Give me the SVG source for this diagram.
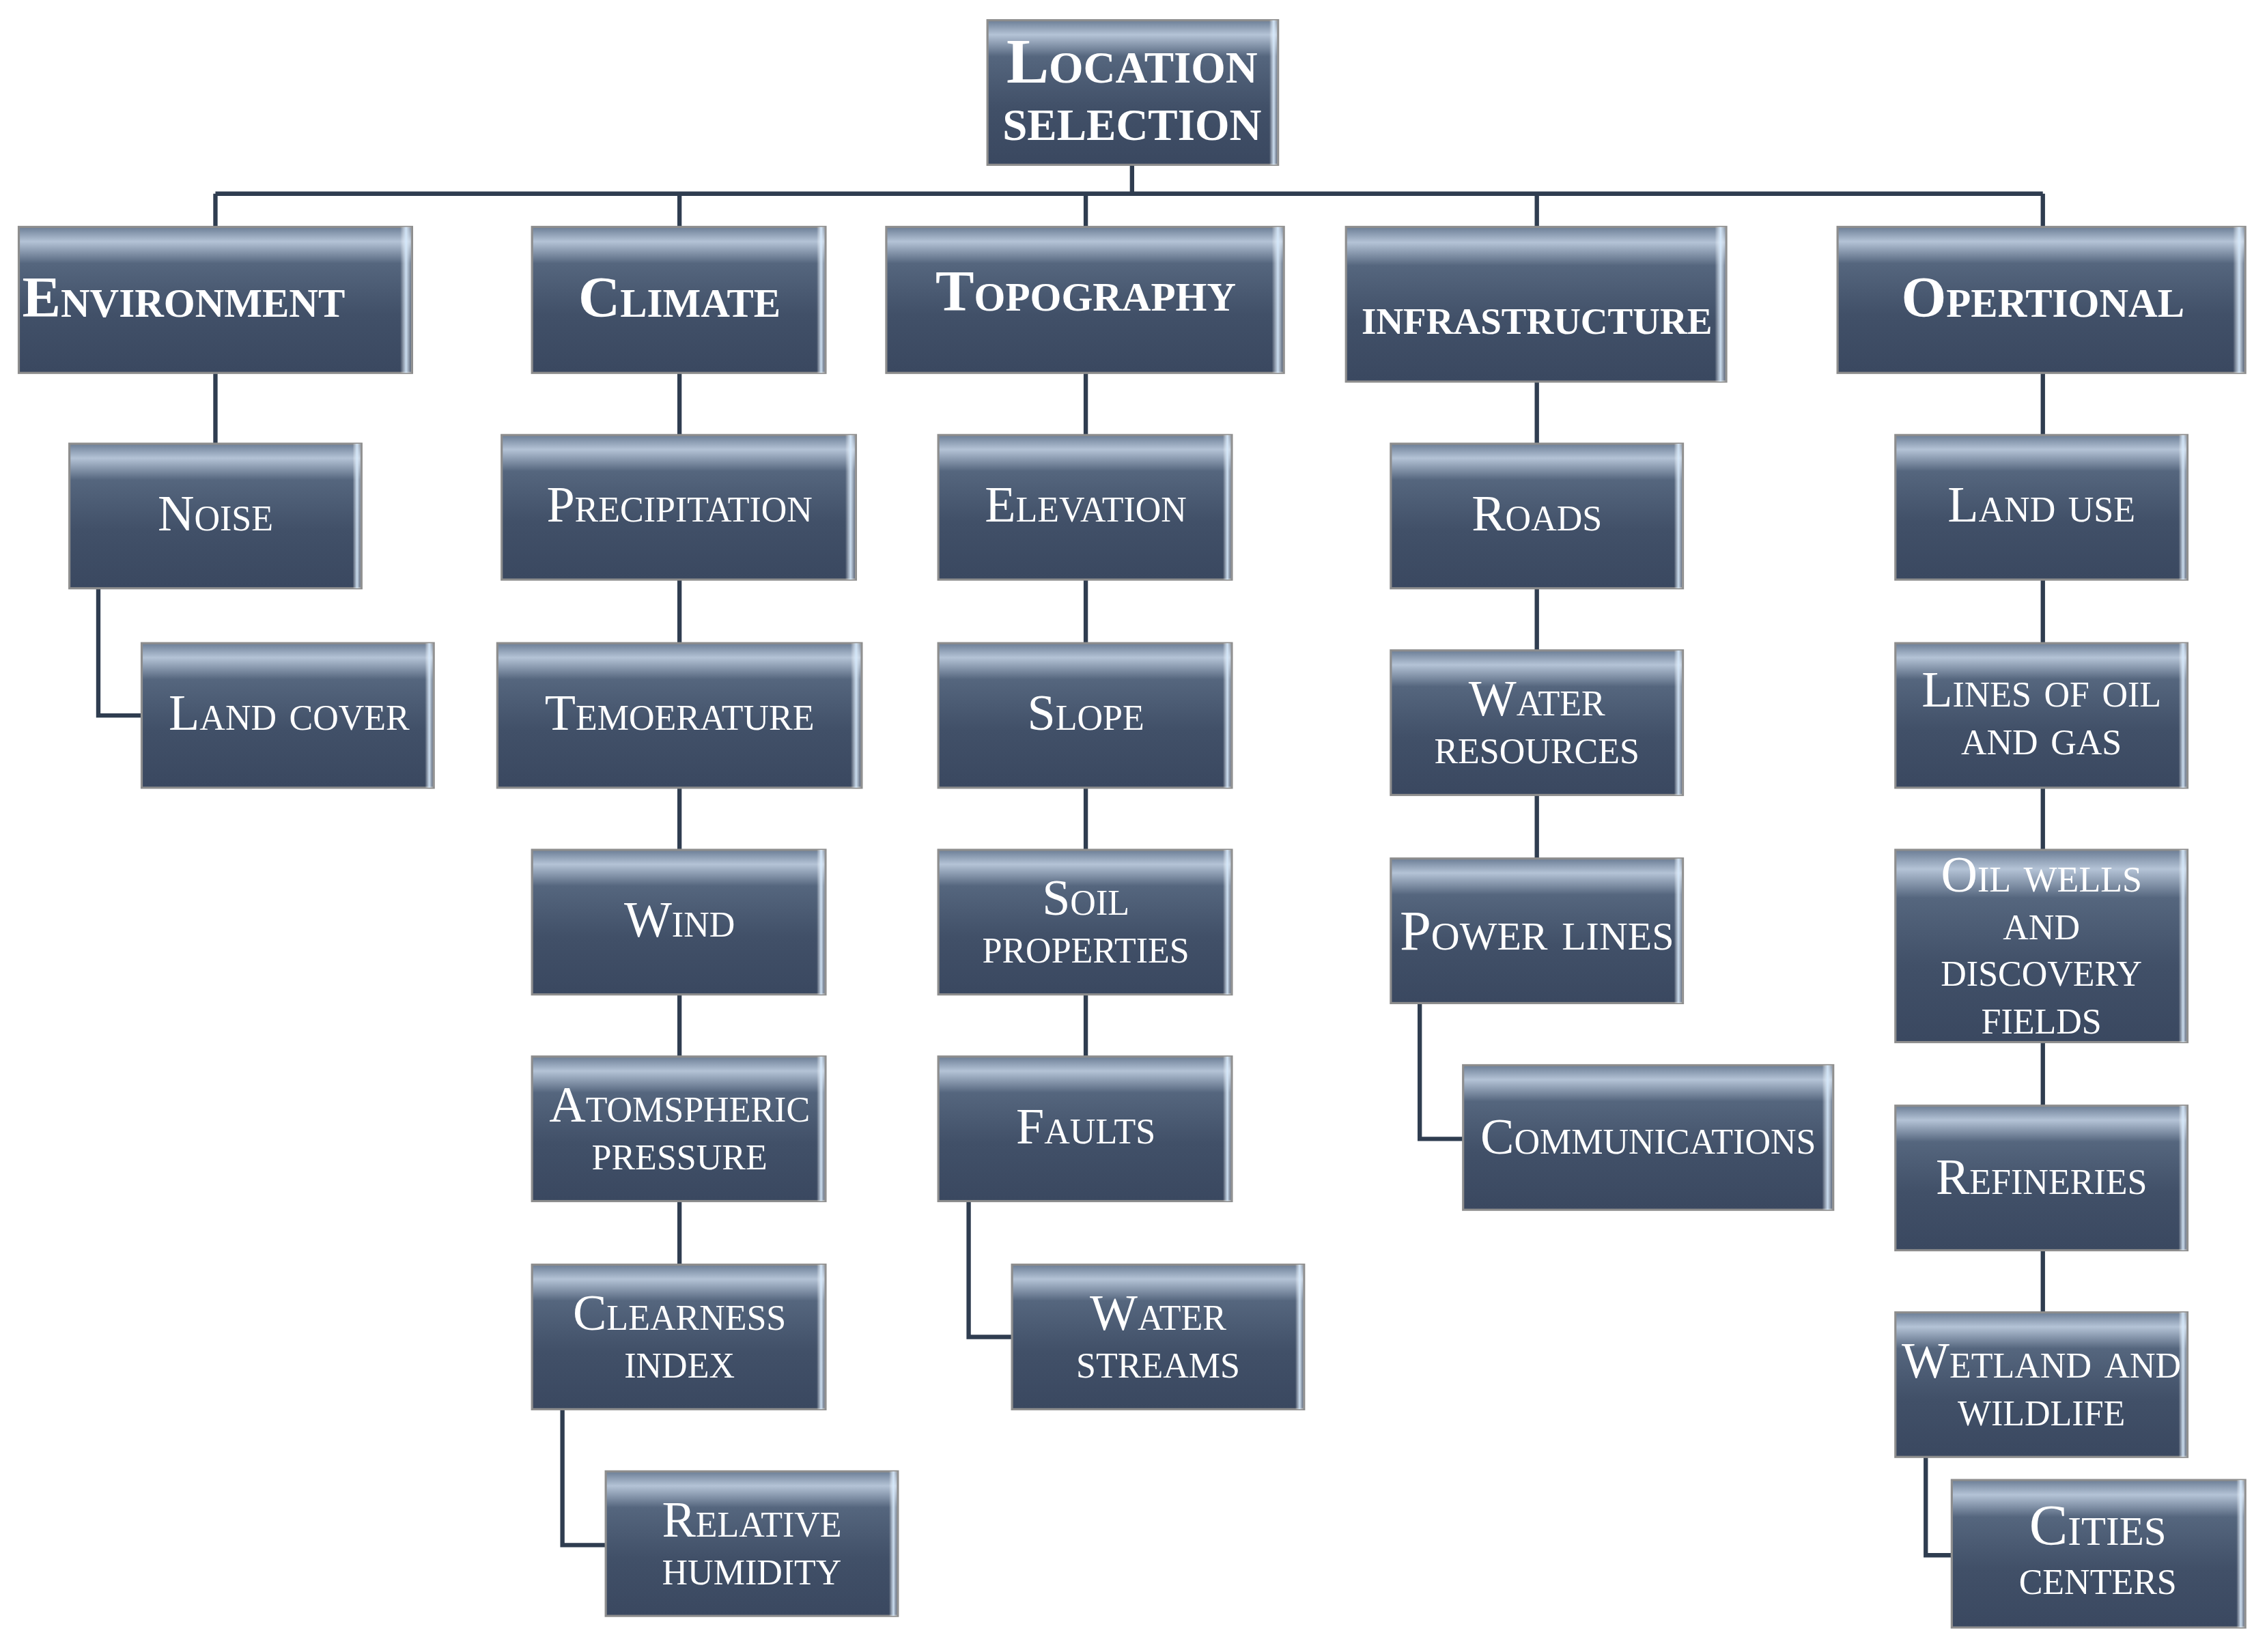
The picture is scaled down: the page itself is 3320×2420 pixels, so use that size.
<svg xmlns="http://www.w3.org/2000/svg" width="3320" height="2420" viewBox="0 0 3320 2420">
<defs>
<linearGradient id="g" x1="0" y1="0" x2="0" y2="1">
<stop offset="0" stop-color="#6b7d95"/><stop offset="0.1" stop-color="#b4c3d6"/><stop offset="0.25" stop-color="#55667e"/><stop offset="0.6" stop-color="#415068"/><stop offset="1" stop-color="#3a4860"/>
</linearGradient>
<linearGradient id="h" x1="0" y1="0" x2="1" y2="0">
<stop offset="0" stop-color="#ffffff" stop-opacity="0"/><stop offset="0.97" stop-color="#ffffff" stop-opacity="0"/><stop offset="0.985" stop-color="#d8ecff" stop-opacity="0.9"/><stop offset="1" stop-color="#ffffff" stop-opacity="0"/>
</linearGradient>
</defs>
<style>
.b{fill:url(#g);stroke:#8d8d8d;stroke-width:1.5}
.s{fill:url(#h)}
.c{fill:none;stroke:#2f3d50;stroke-width:3}
text{font-family:"Liberation Serif","Times New Roman",serif;font-variant:small-caps;fill:#ffffff;text-anchor:middle;font-size:35px}
.t{font-weight:bold;font-size:40px}
</style>
<rect width="3320" height="2420" fill="#ffffff"/>
<g transform="scale(2.1173)">
<g id="connectors">
<path class="c" d="M783 114V134M149 134H1413M149 134V157M470 134V157M751 134V157M1063 134V157M1413 134V157"/>
<path class="c" d="M149 258V307M68 407V495H98"/>
<path class="c" d="M470 258V875M389 975V1069H419"/>
<path class="c" d="M751 258V731M670 831V925H700"/>
<path class="c" d="M1063 264V594M982 694V788H1012"/>
<path class="c" d="M1413 258V908M1332 1008V1076H1350"/>
</g>
<g id="root"><rect class="b" x="683" y="14" width="201" height="100"/><rect class="s" x="683" y="14" width="201" height="100"/><text class="t" x="783" y="57" style="font-size:44px">Location</text><text class="t" x="783" y="97" style="font-size:44px">selection</text></g>
<g id="environment"><rect class="b" x="13" y="157" width="272" height="101"/><rect class="s" x="13" y="157" width="272" height="101"/><text class="t" x="127" y="219">Environment</text></g>
<g id="climate"><rect class="b" x="368" y="157" width="203" height="101"/><rect class="s" x="368" y="157" width="203" height="101"/><text class="t" x="470" y="219">Climate</text></g>
<g id="topography"><rect class="b" x="613" y="157" width="275" height="101"/><rect class="s" x="613" y="157" width="275" height="101"/><text class="t" x="751" y="215">Topography</text></g>
<g id="infrastructure"><rect class="b" x="931" y="157" width="263" height="107"/><rect class="s" x="931" y="157" width="263" height="107"/><text class="t" x="1063" y="231" style="font-size:37px">infrastructure</text></g>
<g id="opertional"><rect class="b" x="1271" y="157" width="282" height="101"/><rect class="s" x="1271" y="157" width="282" height="101"/><text class="t" x="1413" y="219">Opertional</text></g>

<g id="noise"><rect class="b" x="48" y="307" width="202" height="100"/><rect class="s" x="48" y="307" width="202" height="100"/><text x="149" y="367">Noise</text></g>
<g id="landcover"><rect class="b" x="98" y="445" width="202" height="100"/><rect class="s" x="98" y="445" width="202" height="100"/><text x="200" y="505">Land cover</text></g>

<g id="precipitation"><rect class="b" x="347" y="301" width="245" height="100"/><rect class="s" x="347" y="301" width="245" height="100"/><text x="470" y="361">Precipitation</text></g>
<g id="temoerature"><rect class="b" x="344" y="445" width="252" height="100"/><rect class="s" x="344" y="445" width="252" height="100"/><text x="470" y="505">Temoerature</text></g>
<g id="wind"><rect class="b" x="368" y="588" width="203" height="100"/><rect class="s" x="368" y="588" width="203" height="100"/><text x="470" y="648">Wind</text></g>
<g id="pressure"><rect class="b" x="368" y="731" width="203" height="100"/><rect class="s" x="368" y="731" width="203" height="100"/><text x="470" y="776">Atomspheric</text><text x="470" y="809">pressure</text></g>
<g id="clearness"><rect class="b" x="368" y="875" width="203" height="100"/><rect class="s" x="368" y="875" width="203" height="100"/><text x="470" y="920">Clearness</text><text x="470" y="953">index</text></g>
<g id="humidity"><rect class="b" x="419" y="1018" width="202" height="100"/><rect class="s" x="419" y="1018" width="202" height="100"/><text x="520" y="1063">Relative</text><text x="520" y="1096">humidity</text></g>

<g id="elevation"><rect class="b" x="649" y="301" width="203" height="100"/><rect class="s" x="649" y="301" width="203" height="100"/><text x="751" y="361">Elevation</text></g>
<g id="slope"><rect class="b" x="649" y="445" width="203" height="100"/><rect class="s" x="649" y="445" width="203" height="100"/><text x="751" y="505">Slope</text></g>
<g id="soil"><rect class="b" x="649" y="588" width="203" height="100"/><rect class="s" x="649" y="588" width="203" height="100"/><text x="751" y="633">Soil</text><text x="751" y="666">properties</text></g>
<g id="faults"><rect class="b" x="649" y="731" width="203" height="100"/><rect class="s" x="649" y="731" width="203" height="100"/><text x="751" y="791">Faults</text></g>
<g id="streams"><rect class="b" x="700" y="875" width="202" height="100"/><rect class="s" x="700" y="875" width="202" height="100"/><text x="801" y="920">Water</text><text x="801" y="953">streams</text></g>

<g id="roads"><rect class="b" x="962" y="307" width="202" height="100"/><rect class="s" x="962" y="307" width="202" height="100"/><text x="1063" y="367">Roads</text></g>
<g id="waterres"><rect class="b" x="962" y="450" width="202" height="100"/><rect class="s" x="962" y="450" width="202" height="100"/><text x="1063" y="495">Water</text><text x="1063" y="528">resources</text></g>
<g id="power"><rect class="b" x="962" y="594" width="202" height="100"/><rect class="s" x="962" y="594" width="202" height="100"/><text x="1063" y="657" style="font-size:39px">Power lines</text></g>
<g id="comm"><rect class="b" x="1012" y="737" width="256" height="100"/><rect class="s" x="1012" y="737" width="256" height="100"/><text x="1140" y="798">Communications</text></g>

<g id="landuse"><rect class="b" x="1311" y="301" width="202" height="100"/><rect class="s" x="1311" y="301" width="202" height="100"/><text x="1412" y="361">Land use</text></g>
<g id="lines"><rect class="b" x="1311" y="445" width="202" height="100"/><rect class="s" x="1311" y="445" width="202" height="100"/><text x="1412" y="489">Lines of oil</text><text x="1412" y="522">and gas</text></g>
<g id="wells"><rect class="b" x="1311" y="588" width="202" height="133"/><rect class="s" x="1311" y="588" width="202" height="133"/><text x="1412" y="617">Oil wells</text><text x="1412" y="650">and</text><text x="1412" y="682">discovery</text><text x="1412" y="715">fields</text></g>
<g id="refineries"><rect class="b" x="1311" y="765" width="202" height="100"/><rect class="s" x="1311" y="765" width="202" height="100"/><text x="1412" y="826">Refineries</text></g>
<g id="wetland"><rect class="b" x="1311" y="908" width="202" height="100"/><rect class="s" x="1311" y="908" width="202" height="100"/><text x="1412" y="953">Wetland and</text><text x="1412" y="986">wildlife</text></g>
<g id="cities"><rect class="b" x="1350" y="1024" width="203" height="102"/><rect class="s" x="1350" y="1024" width="203" height="102"/><text x="1451" y="1069" style="font-size:40px">Cities</text><text x="1451" y="1103">centers</text></g>
</g>
</svg>
